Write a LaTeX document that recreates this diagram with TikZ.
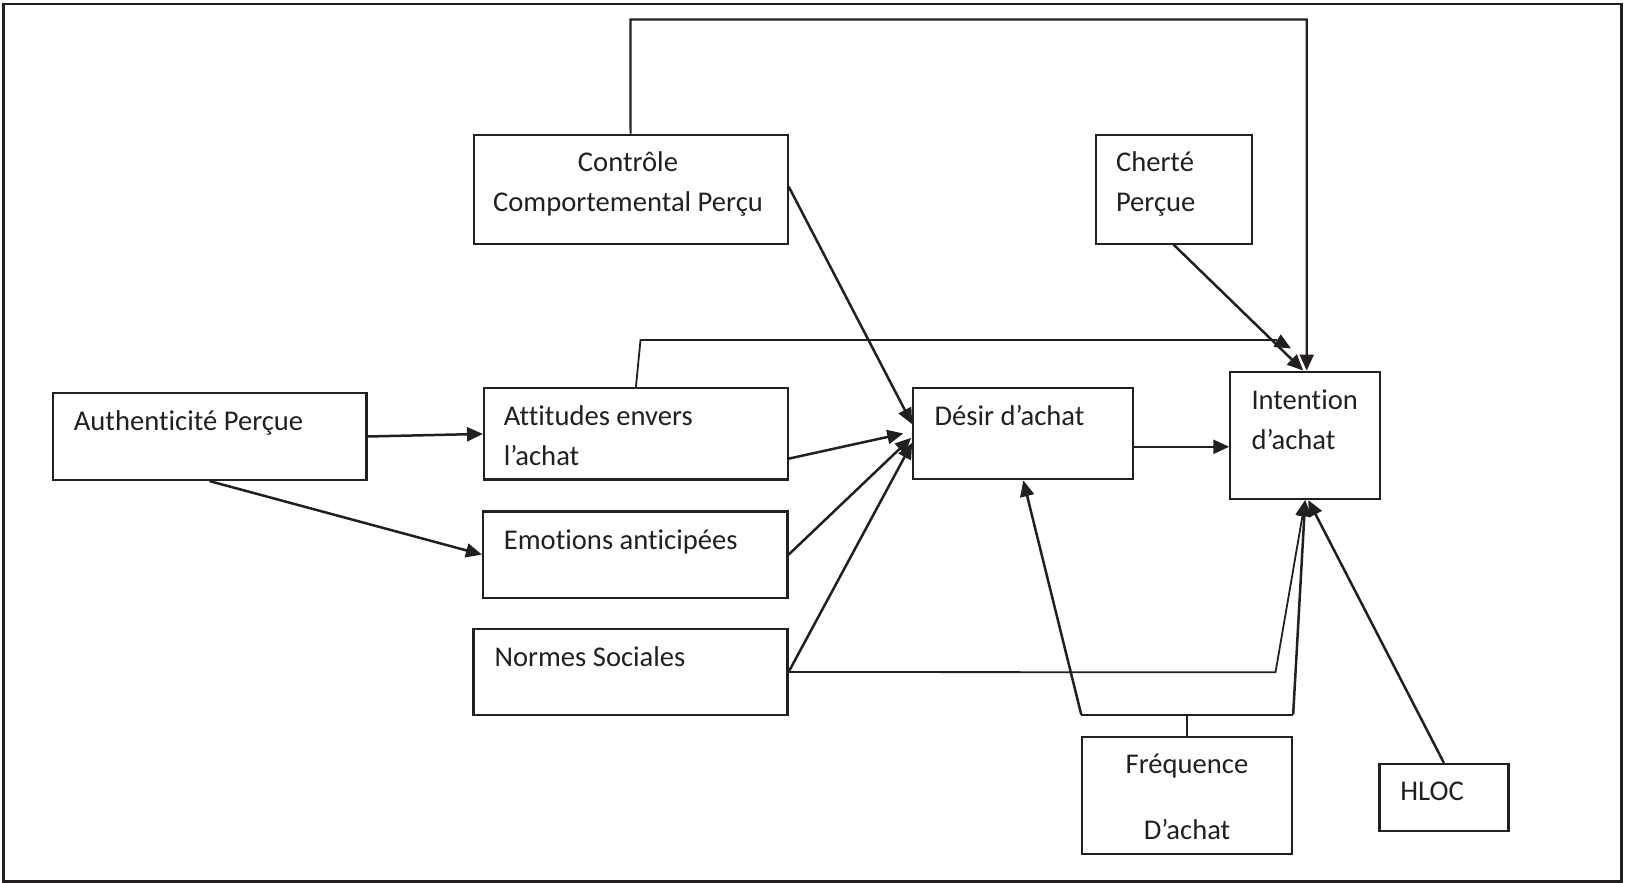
\documentclass[tikz,border=0pt]{standalone}
\usepackage{fontspec}
\setmainfont{Carlito}[Ligatures=CommonOff]
\usetikzlibrary{arrows.meta,calc}
\definecolor{ink}{HTML}{231F20}
\begin{document}
\begin{tikzpicture}[x=1pt,y=-1pt,
  box/.style={draw=ink,line width=2.2pt,rectangle,inner sep=0pt},
  txt/.style={anchor=base west,inner sep=0pt,text=ink,font=\fontsize{28.6}{34}\selectfont},
  txtc/.style={anchor=base,inner sep=0pt,text=ink,font=\fontsize{28.6}{34}\selectfont},
  conn/.style={draw=ink,line width=2.5pt},
  thin/.style={draw=ink,line width=1.8pt},
  arr/.style={-{Triangle[length=16pt,width=14pt]}}]
\useasboundingbox (0,0) rectangle (1625,883);
\draw[ink,line width=2.2pt] (3.5,4) rectangle (1621.5,881.5);
% boxes
\node[box,minimum width=314pt,minimum height=109pt] (ctrl) at (630.6,189.2) {};
\node[box,minimum width=156pt,minimum height=108.7pt] (cher) at (1173.7,189.3) {};
\node[box,minimum width=313.8pt,minimum height=87pt] (auth) at (209.6,436.5) {};
\node[box,minimum width=303.7pt,minimum height=91.2pt] (att) at (635.9,433.9) {};
\node[box,minimum width=304.5pt,minimum height=86.3pt] (emo) at (635.3,554.6) {};
\node[box,minimum width=314pt,minimum height=86pt] (norm) at (630.5,672) {};
\node[box,minimum width=220pt,minimum height=91pt] (des) at (1023.3,433.8) {};
\node[box,minimum width=149.7pt,minimum height=127.3pt] (int) at (1305.2,435.3) {};
\node[box,minimum width=209.7pt,minimum height=117.6pt] (freq) at (1187.2,795.5) {};
\node[box,minimum width=129pt,minimum height=67pt] (hloc) at (1443.9,797.5) {};
% texts
\node[txtc] (t1a) at (628,171.7) {Contrôle};
\node[txtc] (t1b) at (628,211.7) {Comportemental Perçu};
\node[txt] (t2a) at (1115.8,171.7) {Cherté};
\node[txt] (t2b) at (1115.8,211.7) {Perçue};
\node[txt] (t3) at (73.7,430) {Authenticité Perçue};
\node[txt] (t4a) at (503.6,425) {Attitudes envers};
\node[txt] (t4b) at (503.6,465) {l’achat};
\node[txt] (t5) at (503.7,549) {Emotions anticipées};
\node[txt] (t6) at (494.4,666.4) {Normes Sociales};
\node[txt] (t7) at (934.3,425) {Désir d’achat};
\node[txt] (t8a) at (1251.3,409) {Intention};
\node[txt] (t8b) at (1251.3,449) {d’achat};
\node[txtc] (t9a) at (1187,773.3) {Fréquence};
\node[txtc] (t9b) at (1187,839.3) {D’achat};
\node[txt] (t10) at (1400.2,800.7) {HLOC};
% helper coordinates
\coordinate (top) at (630.4,19.5);
\coordinate (attUp) at (640.5,340);
\coordinate (attEnd) at (1276,340);
\coordinate (normBend) at (1275.5,672.3);
\coordinate (fL) at ($(freq.north west)+(0,-21)$);
\coordinate (fR) at ($(freq.north east)+(0,-21)$);
\coordinate (fM) at ($(freq.north)+(0,-21)$);
\coordinate (dI) at ($(des.east)+(0,13)$);
% connectors
\draw[conn,line width=2.2pt,arr] (ctrl.north) -- (top) -| ($(int.north)+(1.5,0)$);
\draw[conn,arr] ($(ctrl.north east)+(0,53)$) -- ($(des.north west)+(0,37)$);
\draw[conn,arr] (cher.south) -- ($(int.north)+(-2,0)$);
\draw[thin,arr] (att.north) -- (attUp) -- (attEnd) -- (1291,348.5);
\draw[conn,arr] (auth.east) -- (att.west);
\draw[conn,arr] (auth.south) -- (emo.west);
\draw[conn,arr] ($(att.south east)+(0,-22)$) -- (903.3,433.5);
\draw[conn,arr] (emo.east) -- ($(des.west)+(-1,4)$);
\draw[conn,arr] (norm.east) -- ($(des.west)+(0,9)$);
\draw[thin,arr] (norm.east) -- (normBend) -- (int.south);
\draw[conn,arr] (dI) -- (dI -| int.west);
\draw[thin] (freq.north) -- (fM);
\draw[thin] (fL) -- (fR);
\draw[conn,arr] (fL) -- (des.south);
\draw[conn,arr] (fR) -- (int.south);
\draw[conn,arr] (hloc.north) -- ($(int.south)+(3,0)$);
\end{tikzpicture}
\end{document}
